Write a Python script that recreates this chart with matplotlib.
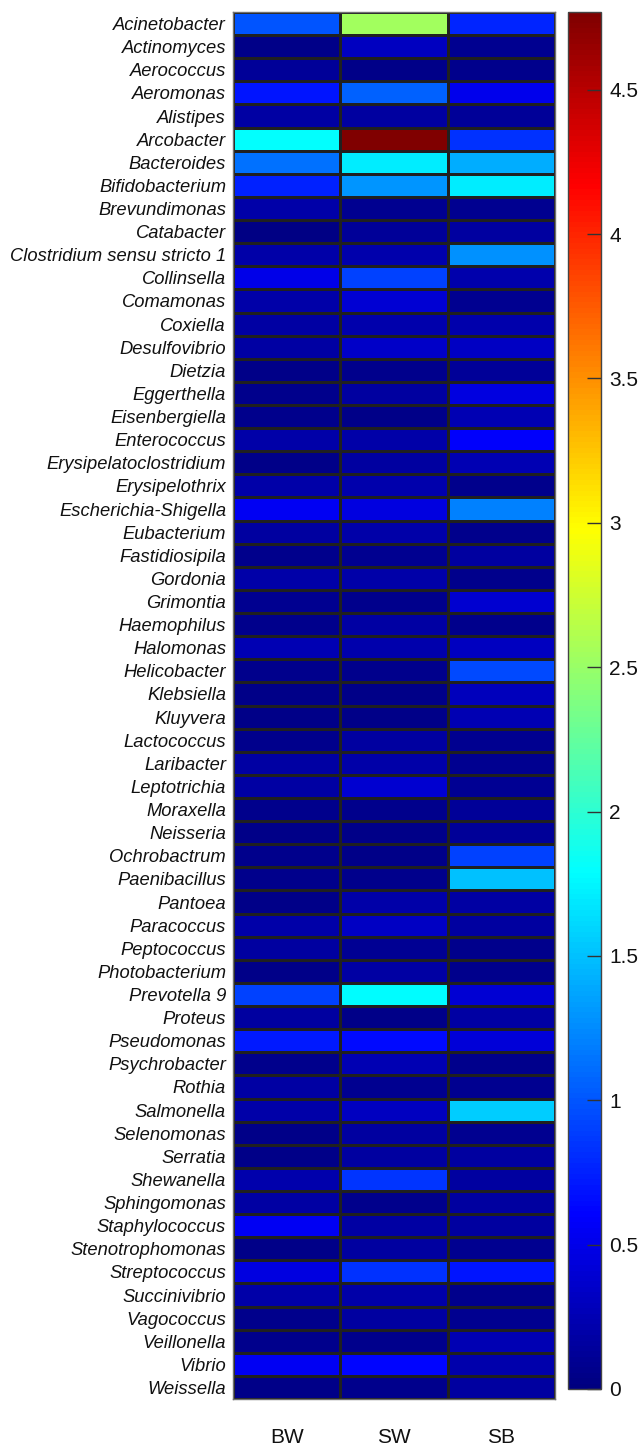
import numpy as np
import matplotlib.pyplot as plt
from matplotlib.colors import Normalize, LinearSegmentedColormap

plt.rcParams['font.family'] = ['Liberation Sans', 'DejaVu Sans']

genera = [
    "Acinetobacter", "Actinomyces", "Aerococcus", "Aeromonas", "Alistipes",
    "Arcobacter", "Bacteroides", "Bifidobacterium", "Brevundimonas", "Catabacter",
    "Clostridium sensu stricto 1", "Collinsella", "Comamonas", "Coxiella", "Desulfovibrio",
    "Dietzia", "Eggerthella", "Eisenbergiella", "Enterococcus", "Erysipelatoclostridium",
    "Erysipelothrix", "Escherichia-Shigella", "Eubacterium", "Fastidiosipila", "Gordonia",
    "Grimontia", "Haemophilus", "Halomonas", "Helicobacter", "Klebsiella",
    "Kluyvera", "Lactococcus", "Laribacter", "Leptotrichia", "Moraxella",
    "Neisseria", "Ochrobactrum", "Paenibacillus", "Pantoea", "Paracoccus",
    "Peptococcus", "Photobacterium", "Prevotella 9", "Proteus", "Pseudomonas",
    "Psychrobacter", "Rothia", "Salmonella", "Selenomonas", "Serratia",
    "Shewanella", "Sphingomonas", "Staphylococcus", "Stenotrophomonas", "Streptococcus",
    "Succinivibrio", "Vagococcus", "Veillonella", "Vibrio", "Weissella",
]
groups = ["BW", "SW", "SB"]

bw = [1.00, 0.05, 0.12, 0.70, 0.18, 1.80, 1.12, 0.75, 0.20, 0.03,
      0.20, 0.50, 0.20, 0.18, 0.18, 0.05, 0.06, 0.07, 0.20, 0.05,
      0.20, 0.55, 0.15, 0.07, 0.20, 0.08, 0.06, 0.25, 0.06, 0.05,
      0.05, 0.07, 0.17, 0.18, 0.06, 0.05, 0.06, 0.07, 0.05, 0.20,
      0.16, 0.05, 0.90, 0.15, 0.72, 0.07, 0.18, 0.20, 0.05, 0.04,
      0.22, 0.18, 0.55, 0.05, 0.45, 0.20, 0.07, 0.06, 0.55, 0.05]
sw = [2.55, 0.30, 0.05, 1.05, 0.15, 4.76, 1.70, 1.30, 0.08, 0.12,
      0.22, 0.90, 0.40, 0.22, 0.35, 0.07, 0.15, 0.05, 0.20, 0.15,
      0.22, 0.45, 0.20, 0.08, 0.20, 0.06, 0.18, 0.22, 0.06, 0.05,
      0.05, 0.15, 0.20, 0.38, 0.06, 0.05, 0.05, 0.06, 0.20, 0.32,
      0.10, 0.18, 1.78, 0.04, 0.65, 0.25, 0.08, 0.30, 0.15, 0.15,
      0.85, 0.07, 0.18, 0.15, 0.82, 0.20, 0.15, 0.06, 0.63, 0.07]
sb = [0.78, 0.08, 0.06, 0.52, 0.12, 0.82, 1.40, 1.70, 0.08, 0.15,
      1.28, 0.22, 0.08, 0.22, 0.32, 0.12, 0.45, 0.25, 0.58, 0.25,
      0.07, 1.20, 0.06, 0.15, 0.07, 0.38, 0.06, 0.30, 0.95, 0.28,
      0.25, 0.08, 0.08, 0.10, 0.12, 0.12, 0.90, 1.50, 0.18, 0.15,
      0.07, 0.06, 0.40, 0.18, 0.42, 0.07, 0.08, 1.55, 0.08, 0.15,
      0.15, 0.16, 0.15, 0.08, 0.70, 0.07, 0.08, 0.25, 0.22, 0.15]

vmin, vmax = 0, 4.77
cbar_ticks = [0, 0.5, 1, 1.5, 2, 2.5, 3, 3.5, 4, 4.5]

# classic jet: navy -> blue -> cyan -> yellow -> red -> dark red
jet_classic = LinearSegmentedColormap.from_list('jet_classic', [
    (0.0, (0, 0, 0.5)), (0.125, (0, 0, 1)), (0.375, (0, 1, 1)),
    (0.625, (1, 1, 0)), (0.875, (1, 0, 0)), (1.0, (0.5, 0, 0))], N=256)

data = np.column_stack([bw, sw, sb])
n_rows = len(genera)

fig = plt.figure(figsize=(6.43, 14.45), dpi=100)
ax = fig.add_axes([0.3624, 0.0318, 0.5008, 0.9599])
cax = fig.add_axes([0.8834, 0.0388, 0.0513, 0.9530])

norm = Normalize(vmin=vmin, vmax=vmax)
mesh = ax.pcolormesh(data, cmap=jet_classic, norm=norm, edgecolors='#202020', linewidth=0.85)
ax.set_xlim(0, len(groups))
ax.set_ylim(n_rows, 0)

ax.set_yticks(np.arange(n_rows) + 0.5)
ax.set_yticklabels(genera, fontsize=13.2, style='italic', color='#111111')
ax.set_xticks(np.arange(len(groups)) + 0.5)
ax.set_xticklabels(groups, fontsize=15, color='#111111')
ax.tick_params(axis='y', length=0, pad=5)
ax.tick_params(axis='x', length=0, pad=21)
for s in ax.spines.values():
    s.set_color('#707070')
    s.set_linewidth(1.0)

cb = fig.colorbar(mesh, cax=cax, ticks=cbar_ticks)
cb.ax.set_yticklabels(['0', '0.5', '1', '1.5', '2', '2.5', '3', '3.5', '4', '4.5'])
cb.ax.tick_params(direction='in', length=10, width=1, color='#333333',
                  labelsize=15, pad=6, labelcolor='#111111')
cb.outline.set_edgecolor('#444444')
cb.outline.set_linewidth(1.0)

fig.savefig('out.png', dpi=100)
